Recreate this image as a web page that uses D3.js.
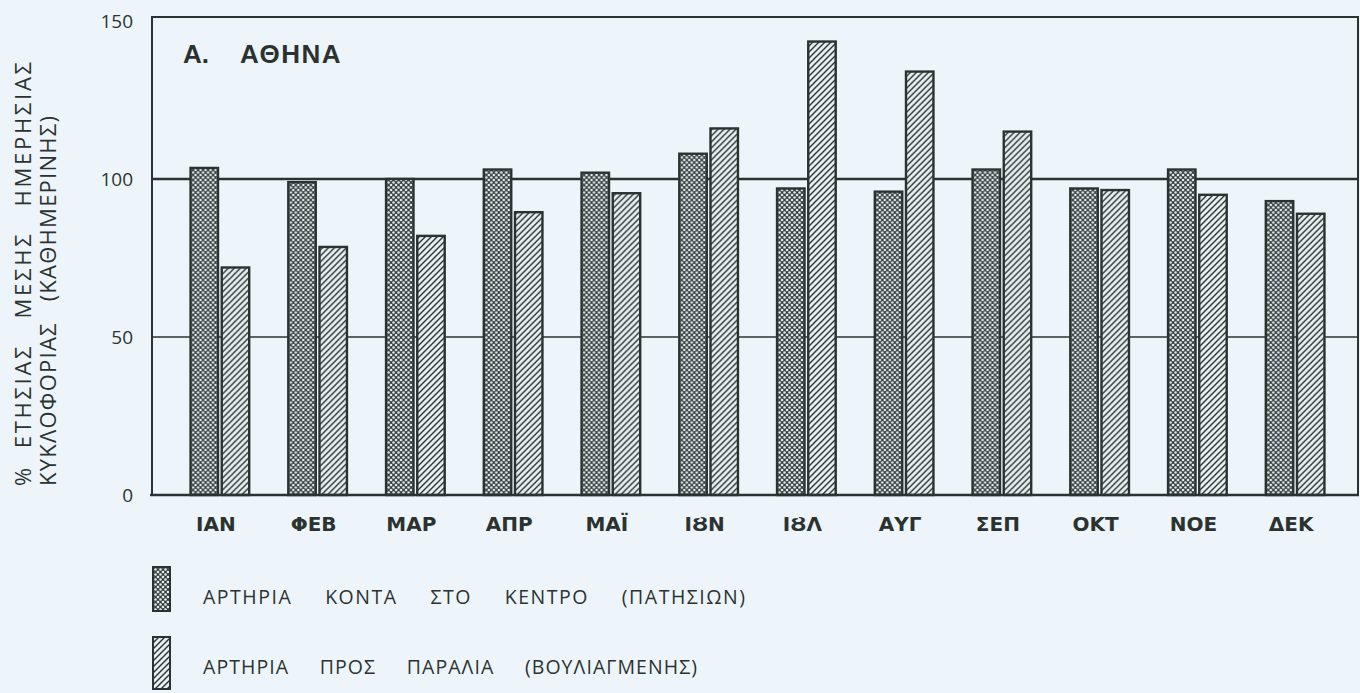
<!DOCTYPE html>
<html>
<head>
<meta charset="utf-8">
<script src="https://cdn.jsdelivr.net/npm/d3@7/dist/d3.min.js"></script>
<style>
  body { margin: 0; background: #eef5fa; }
  svg { display: block; }
  text { fill: #2a3331; }
</style>
</head>
<body>
<svg id="chart"></svg>
<script>
const width = 1360;
const height = 693;

// data
const months = ["ΙΑΝ", "ΦΕΒ", "ΜΑΡ", "ΑΠΡ", "ΜΑΪ", "ΙȢΝ", "ΙȢΛ", "ΑΥΓ", "ΣΕΠ", "ΟΚΤ", "ΝΟΕ", "ΔΕΚ"];
const seriesNames = ["ΑΡΤΗΡΙΑ     ΚΟΝΤΑ     ΣΤΟ     ΚΕΝΤΡΟ     (ΠΑΤΗΣΙΩΝ)", "ΑΡΤΗΡΙΑ     ΠΡΟΣ     ΠΑΡΑΛΙΑ     (ΒΟΥΛΙΑΓΜΕΝΗΣ)"];
const centreValues = [103.5, 99, 100, 103, 102, 108, 97, 96, 103, 97, 103, 93];
const coastValues = [72, 78.5, 82, 89.5, 95.5, 116, 143.5, 134, 115, 96.5, 95, 89];
const yTicks = [0, 50, 100, 150];
const gridValues = [50, 100];

const ink = "#2a3331";

const svg = d3.select("#chart")
    .attr("width", width)
    .attr("height", height);

// patterns for the two series
const defs = svg.append("defs");
const cross = defs.append("pattern")
    .attr("id", "cross")
    .attr("patternUnits", "userSpaceOnUse")
    .attr("width", 5)
    .attr("height", 5);
cross.append("rect").attr("width", 5).attr("height", 5).attr("fill", "#37413f");
[[0, 0], [5, 0], [0, 5], [5, 5], [2.5, 2.5]].forEach(p => {
    cross.append("circle").attr("cx", p[0]).attr("cy", p[1]).attr("r", 1.3).attr("fill", "#e2eaee");
});

const hatch = defs.append("pattern")
    .attr("id", "hatch")
    .attr("patternUnits", "userSpaceOnUse")
    .attr("width", 6)
    .attr("height", 6);
hatch.append("rect").attr("width", 6).attr("height", 6).attr("fill", "#e8eff2");
hatch.append("path")
    .attr("d", "M-1,7 L7,-1 M-1,1 L1,-1 M5,7 L7,5")
    .attr("stroke", ink)
    .attr("stroke-width", 1.4);

const fills = ["url(#cross)", "url(#hatch)"];

// scales
const plotLeft = 152, plotRight = 1358, plotTop = 17, plotBottom = 495;

const y = d3.scaleLinear()
    .domain([0, 150])
    .range([plotBottom, 21]);

const x = d3.scaleBand()
    .domain(months)
    .range([171, 1344])
    .paddingInner(0.4)
    .paddingOuter(0.2);

const xs = d3.scaleBand()
    .domain([0, 1])
    .range([0, x.bandwidth()])
    .paddingInner(0.12);

// gridlines
svg.append("g")
    .selectAll("line")
    .data(gridValues)
    .enter()
    .append("line")
    .attr("x1", plotLeft)
    .attr("x2", plotRight)
    .attr("y1", d => y(d))
    .attr("y2", d => y(d))
    .attr("stroke", ink)
    .attr("stroke-width", d => d === 100 ? 2.6 : 1.6);

// frame
svg.append("path")
    .attr("d", `M${plotLeft},${plotBottom} L${plotLeft},${plotTop} L${plotRight},${plotTop} L${plotRight},${plotBottom}`)
    .attr("fill", "none")
    .attr("stroke", ink)
    .attr("stroke-width", 2);

// bars
const rows = months.map((m, i) => ({ month: m, values: [centreValues[i], coastValues[i]] }));

const groups = svg.append("g")
    .selectAll("g")
    .data(rows)
    .enter()
    .append("g")
    .attr("transform", d => `translate(${x(d.month)},0)`);

groups.selectAll("rect")
    .data(d => d.values.map((v, k) => ({ k, v })))
    .enter()
    .append("rect")
    .attr("x", d => xs(d.k))
    .attr("width", xs.bandwidth())
    .attr("y", d => y(d.v))
    .attr("height", d => y(0) - y(d.v))
    .attr("fill", d => fills[d.k])
    .attr("stroke", ink)
    .attr("stroke-width", 2.4);

// baseline
svg.append("line")
    .attr("x1", plotLeft - 2)
    .attr("x2", plotRight + 1)
    .attr("y1", y(0))
    .attr("y2", y(0))
    .attr("stroke", ink)
    .attr("stroke-width", 2.6);

// y axis tick labels
svg.append("g")
    .selectAll("text")
    .data(yTicks)
    .enter()
    .append("text")
    .attr("x", 133)
    .attr("y", d => y(d))
    .attr("dy", "0.35em")
    .attr("text-anchor", "end")
    .attr("font-family", "'Open Sans', sans-serif")
    .attr("font-size", 19)
    .text(d => d);

// x axis labels
svg.append("g")
    .selectAll("text")
    .data(months)
    .enter()
    .append("text")
    .attr("x", d => x(d) + x.bandwidth() / 2 - 4)
    .attr("y", 531)
    .attr("text-anchor", "middle")
    .attr("font-family", "'DejaVu Sans', 'Open Sans', sans-serif")
    .attr("font-weight", "bold")
    .attr("font-size", 20)
    .text(d => d);

// y axis title, two rotated lines
const yTitle = ["%  ΕΤΗΣΙΑΣ   ΜΕΣΗΣ   ΗΜΕΡΗΣΙΑΣ", "ΚΥΚΛΟΦΟΡΙΑΣ   (ΚΑΘΗΜΕΡΙΝΗΣ)"];
const yTitleLen = [424, 370];
svg.append("g")
    .selectAll("text")
    .data(yTitle)
    .enter()
    .append("text")
    .attr("transform", (d, i) => `translate(${31 + i * 25},486) rotate(-90)`)
    .attr("font-family", "'Open Sans', sans-serif")
    .attr("font-size", 22)
    .attr("textLength", (d, i) => yTitleLen[i])
    .attr("lengthAdjust", "spacing")
    .style("white-space", "pre")
    .text(d => d);

// panel title
const title = svg.append("text")
    .attr("y", 63)
    .attr("font-family", "'Liberation Sans', Arial, sans-serif")
    .attr("font-weight", "bold")
    .attr("font-size", 26);
title.append("tspan").attr("x", 183).text("Α.");
title.append("tspan").attr("x", 240).attr("letter-spacing", 1.5).text("ΑΘΗΝΑ");

// legend
const legendLen = [543, 495];
const legend = svg.append("g")
    .selectAll("g")
    .data(seriesNames)
    .enter()
    .append("g")
    .attr("transform", (d, i) => `translate(153,${567 + i * 70})`);

legend.append("rect")
    .attr("width", 17)
    .attr("height", (d, i) => i === 0 ? 44 : 52)
    .attr("fill", (d, i) => fills[i])
    .attr("stroke", ink)
    .attr("stroke-width", 2);

legend.append("text")
    .attr("x", 50)
    .attr("y", 37)
    .attr("font-family", "'Open Sans', sans-serif")
    .attr("font-size", 19.5)
    .attr("letter-spacing", 1)
    .attr("textLength", (d, i) => legendLen[i])
    .attr("lengthAdjust", "spacing")
    .style("white-space", "pre")
    .text(d => d);
</script>
</body>
</html>
